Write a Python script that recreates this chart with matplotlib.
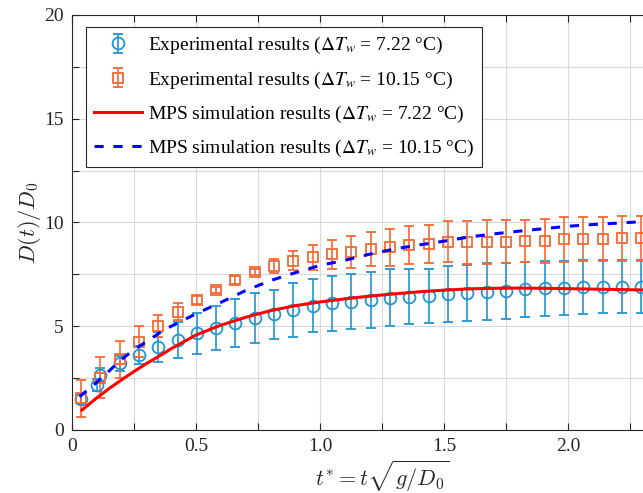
import matplotlib
matplotlib.use("Agg")
import matplotlib.pyplot as plt
from matplotlib.font_manager import FontProperties
from matplotlib.ticker import MultipleLocator, FuncFormatter

# ---------------- data ----------------
t_exp = [0.036, 0.114, 0.192, 0.270, 0.348, 0.426, 0.503, 0.581, 0.659, 0.737,
         0.815, 0.893, 0.971, 1.049, 1.127, 1.205, 1.283, 1.360, 1.438, 1.516,
         1.594, 1.672, 1.750, 1.828, 1.906, 1.984, 2.062, 2.140, 2.217, 2.295]

t_exp1 = [0.036, 0.100, 0.114] + t_exp[2:]
exp1_mean = [1.50, 2.17, 2.65, 3.21, 3.61, 4.02, 4.34, 4.66, 4.90, 5.17, 5.38,
             5.57, 5.78, 5.99, 6.10, 6.18, 6.27, 6.38, 6.43, 6.47, 6.55,
             6.59, 6.67, 6.71, 6.78, 6.83, 6.83, 6.88, 6.91, 6.91, 6.91]
exp1_err = [0.25, 0.30, 0.35, 0.35, 0.45, 0.72, 0.88, 0.98, 1.06, 1.15, 1.20,
            1.20, 1.30, 1.28, 1.32, 1.33, 1.34, 1.36, 1.32, 1.31, 1.34,
            1.34, 1.36, 1.34, 1.34, 1.32, 1.30, 1.30, 1.28, 1.27, 1.27]

exp2_mean = [1.53, 2.52, 3.41, 4.26, 5.01, 5.70, 6.27, 6.75, 7.23, 7.60,
             7.90, 8.16, 8.32, 8.48, 8.59, 8.71, 8.80, 8.92, 8.96, 9.08,
             9.04, 9.08, 9.08, 9.12, 9.12, 9.19, 9.19, 9.19, 9.24, 9.24]
exp2_err = [0.88, 1.00, 0.88, 0.74, 0.55, 0.40, 0.20, 0.15, 0.20, 0.15,
            0.35, 0.45, 0.60, 0.70, 0.78, 0.83, 0.88, 0.92, 0.92, 1.00,
            1.03, 1.06, 1.02, 1.02, 1.07, 1.08, 1.06, 1.06, 1.08, 1.08]

t_sim1 = [0.04, 0.10, 0.15, 0.20, 0.25, 0.30, 0.35, 0.40, 0.50, 0.60, 0.70,
          0.80, 0.90, 1.00, 1.10, 1.20, 1.30, 1.40, 1.50, 1.60, 1.70, 1.80,
          1.90, 2.00, 2.10, 2.20, 2.30, 2.40, 2.50]
sim1 = [0.96, 1.55, 2.00, 2.42, 2.82, 3.20, 3.55, 3.92, 4.58, 5.05, 5.43,
        5.75, 5.99, 6.17, 6.32, 6.45, 6.56, 6.66, 6.74, 6.80, 6.83, 6.84,
        6.83, 6.81, 6.79, 6.77, 6.75, 6.74, 6.73]

t_sim2 = [0.03, 0.10, 0.15, 0.20, 0.25, 0.30, 0.35, 0.40, 0.45, 0.50, 0.60,
          0.70, 0.80, 0.90, 1.00, 1.10, 1.20, 1.30, 1.40, 1.50, 1.60, 1.70,
          1.80, 1.90, 2.00, 2.10, 2.20, 2.30, 2.40, 2.50]
sim2 = [1.60, 2.30, 2.85, 3.40, 3.88, 4.25, 4.66, 5.00, 5.30, 5.60, 6.15,
        6.72, 7.20, 7.58, 7.93, 8.18, 8.47, 8.72, 8.92, 9.10, 9.30, 9.45,
        9.58, 9.70, 9.82, 9.90, 9.97, 10.04, 10.10, 10.15]

labels = [r'Experimental results ($\Delta T_w$ = 7.22 °C)',
          r'Experimental results ($\Delta T_w$ = 10.15 °C)',
          r'MPS simulation results ($\Delta T_w$ = 7.22 °C)',
          r'MPS simulation results ($\Delta T_w$ = 10.15 °C)']

# ---------------- style ----------------
blue_c = '#2196d0'
orange_c = '#f26a35'
serif = 'Liberation Serif'

fig = plt.figure(figsize=(6.43, 4.93), dpi=100)
W, H = 643, 493
left_px, top_px, bottom_px = 72, 15, 430
right_px = 72 + 2.5 * 248
ax = fig.add_axes([left_px / W, 1 - bottom_px / H,
                   (right_px - left_px) / W, (bottom_px - top_px) / H])

e1 = ax.errorbar(t_exp1, exp1_mean, yerr=exp1_err, fmt='o', color=blue_c,
                 mfc='none', mec=blue_c, ms=8.5, mew=1.3, elinewidth=1.2,
                 capsize=3.8, capthick=1.2, label=labels[0], zorder=3)
e2 = ax.errorbar(t_exp, exp2_mean, yerr=exp2_err, fmt='s', color=orange_c,
                 mfc='none', mec=orange_c, ms=6.8, mew=1.3, elinewidth=1.2,
                 capsize=3.8, capthick=1.2, label=labels[1], zorder=3)
l1, = ax.plot(t_sim1, sim1, '-', color='red', lw=2.2, label=labels[2], zorder=4)
l2, = ax.plot(t_sim2, sim2, '--', color='blue', lw=2.2, dashes=(3, 3.2),
              label=labels[3], zorder=4)


def xfmt(v, p):
    if v > 2.3 or abs(v / 0.5 - round(v / 0.5)) > 1e-6:
        return ''
    return '0' if abs(v) < 1e-9 else f'{v:.1f}'


ax.set_xlim(0, 2.5)
ax.set_ylim(0, 20)
ax.xaxis.set_major_locator(MultipleLocator(0.25))
ax.yaxis.set_major_locator(MultipleLocator(2.5))
ax.xaxis.set_major_formatter(FuncFormatter(xfmt))
ax.yaxis.set_major_formatter(FuncFormatter(
    lambda v, p: f'{v:.0f}' if abs(v / 5 - round(v / 5)) < 1e-6 else ''))
ax.tick_params(direction='in', top=True, right=True, length=5, width=0.8,
               labelsize=14, color='#262626', labelcolor='#262626', pad=6)
for lab in ax.get_xticklabels() + ax.get_yticklabels():
    lab.set_fontfamily(serif)
ax.grid(True, color='#d9d9d9', lw=0.8)
ax.set_axisbelow(True)
for s in ax.spines.values():
    s.set_color('#262626')
    s.set_linewidth(0.8)

lab_fp = FontProperties(size=16, math_fontfamily='cm')
ax.set_ylabel(r'$D(t)/D_0$', fontproperties=lab_fp, color='#262626', labelpad=1)
ax.set_xlabel(r'$t^{*} = t\sqrt{g/D_0}$', fontproperties=lab_fp, color='#262626',
              labelpad=2)

leg_fp = FontProperties(family=serif, size=14, math_fontfamily='stix')
leg = ax.legend(handles=[e1, e2, l1, l2], labels=labels, prop=leg_fp,
                loc='upper left', bbox_to_anchor=((86 - left_px) / (right_px - left_px),
                                                  1 - (27 - top_px) / (bottom_px - top_px)),
                borderaxespad=0, frameon=True, fancybox=False, edgecolor='#262626',
                framealpha=1, handlelength=2.45, handletextpad=0.3,
                labelspacing=0.68, borderpad=0.42)
leg.get_frame().set_linewidth(0.8)

fig.savefig('out.png', dpi=100)
